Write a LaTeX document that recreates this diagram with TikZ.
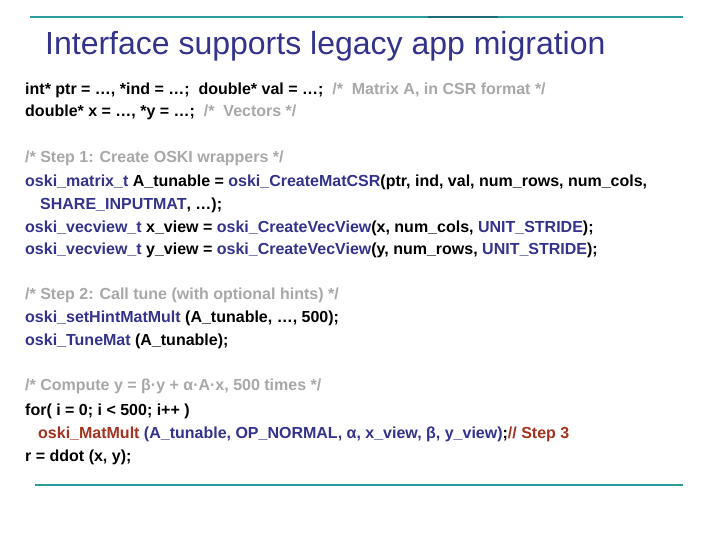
\documentclass[tikz,border=0pt]{standalone}
\usepackage{fontspec}
\setmainfont{Liberation Sans}
\definecolor{teal1}{HTML}{2A9A9A}
\definecolor{teal2}{HTML}{1E6E78}
\definecolor{kblue}{HTML}{33338C}
\definecolor{kred}{HTML}{A3331E}
\definecolor{kgray}{HTML}{A8A8A8}
\tikzset{code/.style={anchor=west,inner sep=0pt,font=\fontsize{16}{18}\selectfont\bfseries}}
\newcommand{\kb}[1]{\textcolor{kblue}{#1}}
\newcommand{\kr}[1]{\textcolor{kred}{#1}}
\newcommand{\kg}[1]{\textcolor{kgray}{#1}}
\begin{document}
\begin{tikzpicture}[x=1pt,y=-1pt]
\useasboundingbox (0,0) rectangle (720,540);
\fill[white] (0,0) rectangle (720,540);
\draw[teal1,line width=1.5pt] (30,17) -- (683,17);
\draw[teal2,line width=2pt] (428,17) -- (498,17);
\draw[teal1,line width=1.5pt] (35,485) -- (683,485);
\node[anchor=west,inner sep=0pt,font=\fontsize{32}{36}\selectfont,text=kblue] (title) at (45,46) {Interface supports legacy app migration};
\node[code] (l1) at (25,90) {int* ptr = …, *ind = …;\ \ double* val = …;\ \ \kg{/*\ \ Matrix A, in CSR format */}};
\node[code] (l2) at (25,112) {double* x = …, *y = …;\ \ \kg{/*\ \ Vectors */}};
\node[code] (l3) at (25,158) {\kg{/* Step 1: Create OSKI wrappers */}};
\node[code] (l4) at (25,182) {\kb{oski\_matrix\_t} A\_tunable = \kb{oski\_CreateMatCSR}(ptr, ind, val, num\_rows, num\_cols,};
\node[code] (l5) at (40,205) {\kb{SHARE\_INPUTMAT}, …);};
\node[code] (l6) at (25,228) {\kb{oski\_vecview\_t} x\_view = \kb{oski\_CreateVecView}(x, num\_cols, \kb{UNIT\_STRIDE});};
\node[code] (l7) at (25,250) {\kb{oski\_vecview\_t} y\_view = \kb{oski\_CreateVecView}(y, num\_rows, \kb{UNIT\_STRIDE});};
\node[code] (l8) at (25,295) {\kg{/* Step 2: Call tune (with optional hints) */}};
\node[code] (l9) at (25,318) {\kb{oski\_setHintMatMult} (A\_tunable, …, 500);};
\node[code] (l10) at (25,341) {\kb{oski\_TuneMat} (A\_tunable);};
\node[code] (l11) at (25,386) {\kg{/* Compute y = β·y + α·A·x, 500 times */}};
\node[code] (l12) at (25,411) {for( i = 0; i < 500; i++ )};
\node[code] (l13) at (38,434) {\kr{oski\_MatMult} \kb{(A\_tunable, OP\_NORMAL, α, x\_view, β, y\_view)};\kr{// Step 3}};
\node[code] (l14) at (25,457) {r = ddot (x, y);};
\end{tikzpicture}
\end{document}
